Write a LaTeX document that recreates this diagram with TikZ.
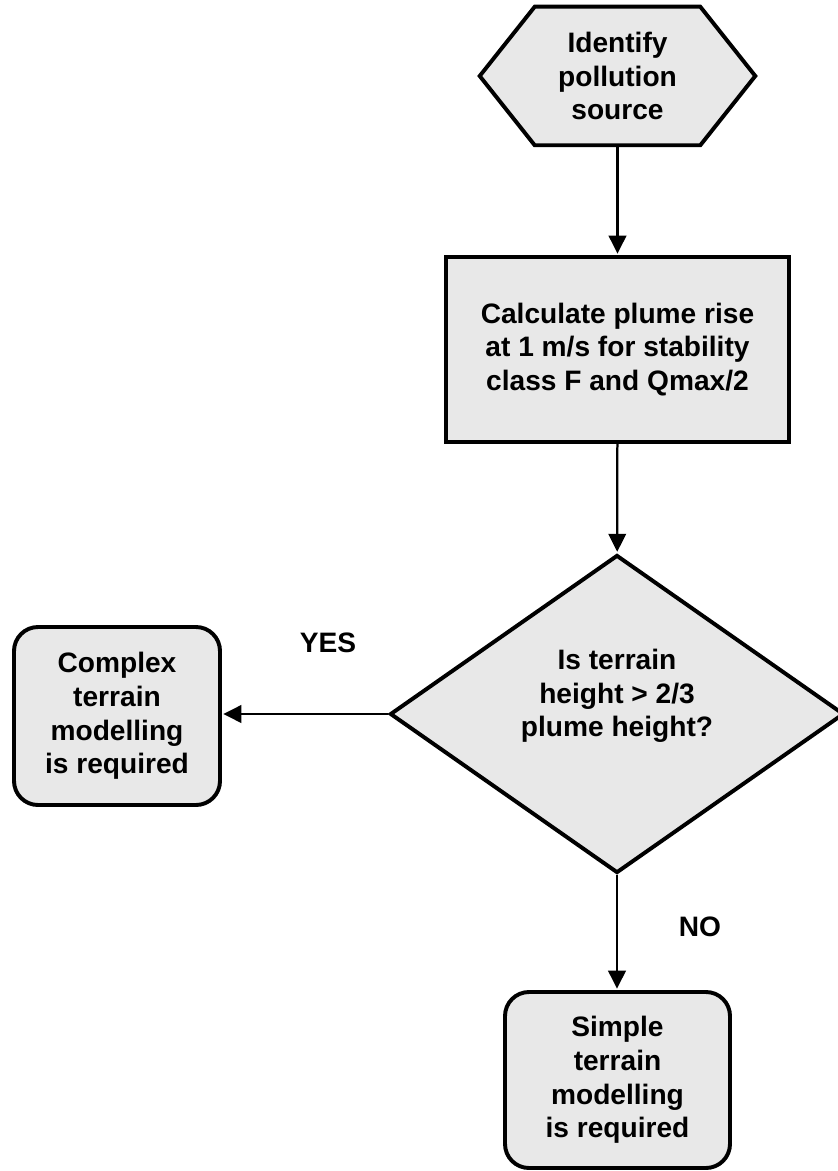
\documentclass[tikz,border=0pt]{standalone}
\usepackage{fontspec}
\setmainfont{Liberation Sans}
\usetikzlibrary{shapes.geometric,arrows.meta,backgrounds}
\definecolor{boxgray}{HTML}{E8E8E8}

\begin{document}
\begin{tikzpicture}[shorten >=1pt,draw=black!100,>={Triangle[length=0.45cm,width=0.44cm]}]

	\def \spine{15.4375}
	\def \cham{1.375cm}
	\tikzstyle{b-node}=[font=\bfseries\fontsize{20}{24}\selectfont,align=center,inner sep=0pt]
	\tikzstyle{box}=[b-node,draw,line width=2.8pt,fill=boxgray]
	\tikzstyle{flow}=[->,line width=1.6pt]
	\tikzstyle{annot}=[b-node]

	\useasboundingbox (0,0) rectangle (20.925,-29.275);

	% source
	\node[b-node,minimum width=6.875cm,minimum height=3.45cm] (src) at (\spine,-1.9) {Identify\\pollution\\source};
	\begin{pgfonlayer}{background}
	\draw[line width=2.8pt,fill=boxgray] (src.west) -- ([xshift=\cham]src.north west) -- ([xshift=-\cham]src.north east) -- (src.east) -- ([xshift=-\cham]src.south east) -- ([xshift=\cham]src.south west) -- cycle;
	\end{pgfonlayer}

	% plume rise
	\node[box,minimum width=8.575cm,minimum height=4.625cm] (calc) at (\spine,-8.7375) {Calculate plume rise\\at 1 m/s for stability\\class F and Qmax/2};

	% decision
	\node[box,diamond,aspect=1.43,minimum width=11.35cm,minimum height=7.95cm] (test) at (15.425,-17.85) {};
	\node[b-node] (testtext) at ([yshift=0.45cm]test.center) {Is terrain\\height > 2/3\\plume height?};

	% outcomes
	\node[box,rounded corners=0.6cm,minimum width=5.15cm,minimum height=4.45cm] (complex) at (2.925,-17.9) {Complex\\terrain\\modelling\\is required};
	\node[box,rounded corners=0.6cm,minimum width=5.625cm,minimum height=4.4cm] (simple) at (\spine,-27.0) {Simple\\terrain\\modelling\\is required};

	% labels
	\node[annot] (yes) at (8.2,-16.075) {YES};
	\node[annot] (no) at (17.5,-23.175) {NO};

	% arrows
	\draw[flow] (src) -- (calc);
	\draw[flow] (calc) -- (test);
	\draw[flow] (test.west) -- (test.west -| complex.east);
	\draw[flow] (test.south) -- (test.south |- simple.north);
\end{tikzpicture}
\end{document}
